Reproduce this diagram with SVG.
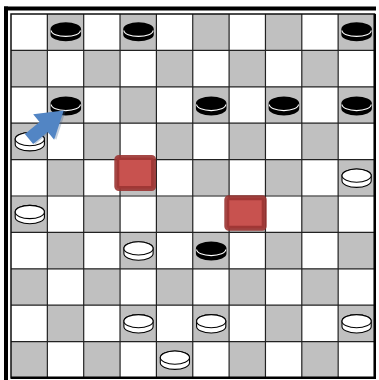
<svg xmlns="http://www.w3.org/2000/svg" xmlns:xlink="http://www.w3.org/1999/xlink" width="379" height="380" viewBox="0 0 379 380">
  <style>
    .grid { stroke: #222; stroke-width: 1.2; fill: none; }
    .frame { fill: #000; }
    .mark { fill: #C8524F; stroke: #9B3432; stroke-width: 5; stroke-opacity: 0.9; }
  </style>
  <defs>
    <pattern id="board" patternUnits="userSpaceOnUse" x="11" y="14" width="72.7" height="72.8">
      <rect x="0" y="0" width="72.7" height="72.8" fill="#fff"/>
      <rect x="36.35" y="0" width="36.35" height="36.4" fill="#C0C0C0"/>
      <rect x="0" y="36.4" width="36.35" height="36.4" fill="#C0C0C0"/>
    </pattern>
    <g id="blackPiece">
      <path d="M-15.3,-2.6 A15.3,6.9 0 0 1 15.3,-2.6 L15.3,2.6 A15.3,6.9 0 0 1 -15.3,2.6 Z" fill="#000"/>
      <path d="M-14.6,-1.4 A14.6,6 0 0 0 14.6,-1.4" fill="none" stroke="#fff" stroke-width="1.1"/>
    </g>
    <g id="whitePiece">
      <path d="M-14.6,-2.6 A14.6,6.6 0 0 1 14.6,-2.6 L14.6,2.6 A14.6,6.6 0 0 1 -14.6,2.6 Z" fill="#fff" stroke="#000" stroke-width="1.1"/>
      <ellipse cx="0" cy="-2.6" rx="14.6" ry="6.6" fill="#fff" stroke="#000" stroke-width="1.1"/>
    </g>
  </defs>

  <rect x="0" y="0" width="379" height="380" fill="#fff"/>

  <!-- outer frame -->
  <rect class="frame" x="4" y="6.5" width="372" height="4"/>
  <rect class="frame" x="4" y="6.5" width="4" height="374"/>

  <!-- board squares -->
  <rect x="11" y="14" width="363.5" height="364" fill="url(#board)"/>

  <!-- grid lines -->
  <path class="grid" d="M47.35,14V378 M83.7,14V378 M120.05,14V378 M156.4,14V378 M192.75,14V378 M229.1,14V378 M265.45,14V378 M301.8,14V378 M338.15,14V378
    M11,50.4H374.5 M11,86.8H374.5 M11,123.2H374.5 M11,159.6H374.5 M11,196H374.5 M11,232.4H374.5 M11,268.8H374.5 M11,305.2H374.5 M11,341.6H374.5"/>
  <rect x="11" y="14" width="363.5" height="364" fill="none" stroke="#111" stroke-width="1.5"/>
  <path d="M374.8,14V379 M11,377.8H376" stroke="#000" stroke-width="2.4" fill="none"/>

  <!-- highlighted squares -->
  <g id="mark1"><rect class="mark" x="116.8" y="157.5" width="36.8" height="31" rx="2"/></g>
  <g id="mark2"><rect class="mark" x="226.8" y="197.8" width="37.4" height="30.4" rx="2"/></g>

  <!-- black pieces -->
  <g id="black-pieces">
    <use xlink:href="#blackPiece" x="65.8" y="31.8"/>
    <use xlink:href="#blackPiece" x="138.5" y="31.8"/>
    <use xlink:href="#blackPiece" x="356.6" y="31.8"/>
    <use xlink:href="#blackPiece" x="65.8" y="106"/>
    <use xlink:href="#blackPiece" x="211.2" y="106"/>
    <use xlink:href="#blackPiece" x="283.9" y="106"/>
    <use xlink:href="#blackPiece" x="356.6" y="106"/>
    <use xlink:href="#blackPiece" x="211.2" y="251"/>
  </g>

  <!-- white pieces -->
  <g id="white-pieces">
    <use xlink:href="#whitePiece" x="29.8" y="141.7"/>
    <use xlink:href="#whitePiece" x="356.6" y="178.2"/>
    <use xlink:href="#whitePiece" x="29.8" y="214.6"/>
    <use xlink:href="#whitePiece" x="138.5" y="251"/>
    <use xlink:href="#whitePiece" x="138.5" y="323.8"/>
    <use xlink:href="#whitePiece" x="211.2" y="323.8"/>
    <use xlink:href="#whitePiece" x="356.6" y="323.8"/>
    <use xlink:href="#whitePiece" x="174.9" y="360.2"/>
  </g>

  <!-- arrow -->
  <g id="arrow" transform="translate(29,139) rotate(-39.5)">
    <path d="M0,-6.5 L19,-6.5 L19,-16.5 L45,0 L19,16.5 L19,6.5 L0,6.5 Z" fill="#3A5F8F" opacity="0.3" transform="translate(1.5,1.5)"/>
    <path d="M0,-6.5 L19,-6.5 L19,-16.5 L45,0 L19,16.5 L19,6.5 L0,6.5 Z" fill="#5285C4"/>
  </g>
</svg>
